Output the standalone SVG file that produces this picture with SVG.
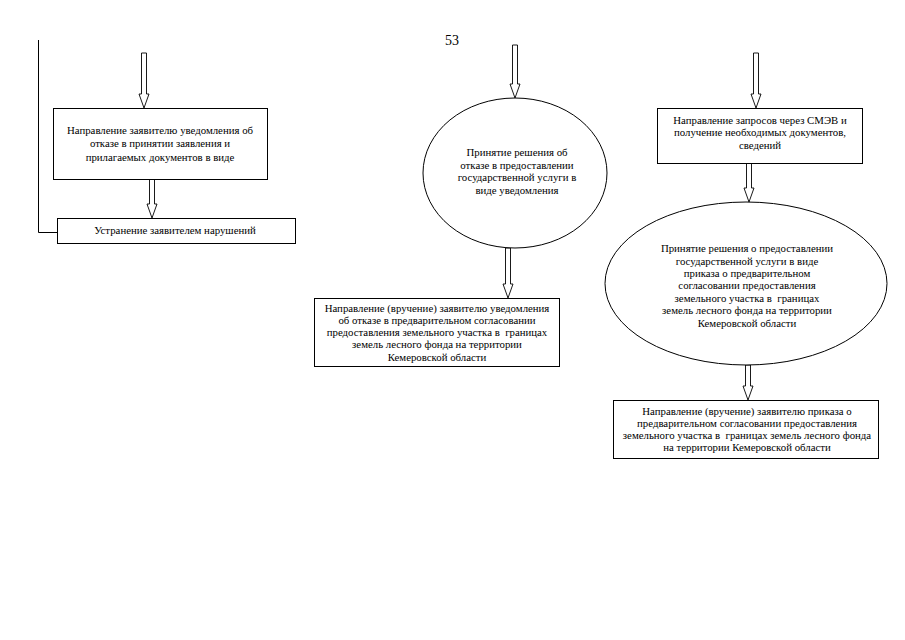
<svg xmlns="http://www.w3.org/2000/svg" width="905" height="640" viewBox="0 0 905 640">
<style>
.n{fill:#fff;stroke:#000;stroke-width:1}
.t{font-family:'Liberation Serif',serif;font-size:10.8px;fill:#000;text-anchor:middle;white-space:pre}
.a{fill:#fff;stroke:#000;stroke-width:0.9}
.l{fill:none;stroke:#000;stroke-width:1}
</style>
<rect width="905" height="640" fill="#fff"/>
<text x="452" y="45" font-family="Liberation Serif, serif" font-size="14" text-anchor="middle">53</text>
<g id="connectors">
<path class="l" d="M38.5,40 V232.5 H57"/>
<path class="a" d="M141.5,53 H146.5 V94 H149 L144,108 L139,94 H141.5 Z"/>
<path class="a" d="M149.5,179 H154.5 V204 H157 L152,218 L147,204 H149.5 Z"/>
<path class="a" d="M512.5,45 H517.5 V84 H520 L515,98 L510,84 H512.5 Z"/>
<path class="a" d="M505.5,248 H510.5 V284 H513 L508,298 L503,284 H505.5 Z"/>
<path class="a" d="M753.5,53 H758.5 V94 H761 L756,108 L751,94 H753.5 Z"/>
<path class="a" d="M746.5,163 H751.5 V188 H754 L749,202 L744,188 H746.5 Z"/>
<path class="a" d="M745.5,365 H750.5 V386 H753 L748,400 L743,386 H745.5 Z"/>
</g>
<g id="n1" font-family="Liberation Serif, serif">
<rect class="n" x="53.5" y="108.5" width="214" height="71"/>
<text class="t" x="160" y="134">Направление заявителю уведомления об</text>
<text class="t" x="160" y="147">отказе в принятии заявления и</text>
<text class="t" x="160" y="161">прилагаемых документов в виде</text>
</g>
<g id="n2" font-family="Liberation Serif, serif">
<rect class="n" x="57.5" y="218.5" width="238" height="25"/>
<text class="t" x="175" y="234">Устранение заявителем нарушений</text>
</g>
<g id="n3" font-family="Liberation Serif, serif">
<ellipse class="n" cx="515" cy="173" rx="92" ry="75"/>
<text class="t" x="517" y="156">Принятие решения об</text>
<text class="t" x="517" y="168.5">отказе в предоставлении</text>
<text class="t" x="517" y="181">государственной услуги в</text>
<text class="t" x="517" y="193.5">виде уведомления</text>
</g>
<g id="n4" font-family="Liberation Serif, serif">
<rect class="n" x="314.5" y="298.5" width="245" height="68"/>
<text class="t" x="437" y="312">Направление (вручение) заявителю уведомления</text>
<text class="t" x="437" y="324">об отказе в предварительном согласовании</text>
<text class="t" x="437" y="336">предоставления земельного участка в  границах</text>
<text class="t" x="437" y="348">земель лесного фонда на территории</text>
<text class="t" x="437" y="361">Кемеровской области</text>
</g>
<g id="n5" font-family="Liberation Serif, serif">
<rect class="n" x="657.5" y="108.5" width="205" height="55"/>
<text class="t" x="760" y="124">Направление запросов через СМЭВ и</text>
<text class="t" x="760" y="136">получение необходимых документов,</text>
<text class="t" x="760" y="149">сведений</text>
</g>
<g id="n6" font-family="Liberation Serif, serif">
<ellipse class="n" cx="746" cy="283.5" rx="141" ry="81.5"/>
<text class="t" x="747" y="252">Принятие решения о предоставлении</text>
<text class="t" x="747" y="264.5">государственной услуги в виде</text>
<text class="t" x="747" y="277">приказа о предварительном</text>
<text class="t" x="747" y="289">согласовании предоставления</text>
<text class="t" x="747" y="301.5">земельного участка в  границах</text>
<text class="t" x="747" y="314">земель лесного фонда на территории</text>
<text class="t" x="747" y="326.5">Кемеровской области</text>
</g>
<g id="n7" font-family="Liberation Serif, serif">
<rect class="n" x="613.5" y="400.5" width="265" height="58"/>
<text class="t" x="747" y="415">Направление (вручение) заявителю приказа о</text>
<text class="t" x="747" y="427">предварительном согласовании предоставления</text>
<text class="t" x="747" y="439">земельного участка в  границах земель лесного фонда</text>
<text class="t" x="747" y="451">на территории Кемеровской области</text>
</g>
</svg>
